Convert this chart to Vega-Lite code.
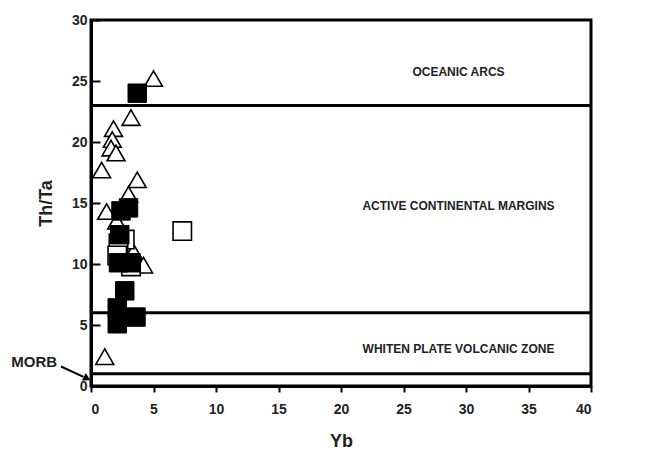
{
  "$schema": "https://vega.github.io/schema/vega-lite/v6.json",
  "width": 500,
  "height": 366,
  "autosize": "none",
  "padding": {"left": 91, "top": 20, "right": 67, "bottom": 67},
  "background": "white",
  "config": {
    "view": {"stroke": "black", "strokeWidth": 3},
    "font": "Liberation Sans",
    "axis": {"grid": false, "labelFont": "Liberation Sans", "labelFontWeight": "bold", "labelFontSize": 14, "labelColor": "#222", "titleFont": "Liberation Sans", "titleFontWeight": "bold", "titleFontSize": 18, "titleColor": "#222", "domainColor": "black", "domainWidth": 3, "tickColor": "black", "tickWidth": 2}
  },
  "datasets": {
    "pts": [
      {"Yb": 5.0, "ThTa": 25.2, "type": "tri"},
      {"Yb": 3.2, "ThTa": 22.0, "type": "tri"},
      {"Yb": 1.8, "ThTa": 21.1, "type": "tri"},
      {"Yb": 1.7, "ThTa": 20.2, "type": "tri"},
      {"Yb": 1.6, "ThTa": 19.5, "type": "tri"},
      {"Yb": 2.0, "ThTa": 19.1, "type": "tri"},
      {"Yb": 0.85, "ThTa": 17.7, "type": "tri"},
      {"Yb": 3.7, "ThTa": 16.9, "type": "tri"},
      {"Yb": 3.0, "ThTa": 15.7, "type": "tri"},
      {"Yb": 1.25, "ThTa": 14.3, "type": "tri"},
      {"Yb": 2.05, "ThTa": 13.5, "type": "tri"},
      {"Yb": 2.6, "ThTa": 11.0, "type": "tri"},
      {"Yb": 3.4, "ThTa": 11.0, "type": "tri"},
      {"Yb": 4.2, "ThTa": 9.9, "type": "tri"},
      {"Yb": 1.1, "ThTa": 2.4, "type": "tri"},
      {"Yb": 7.3, "ThTa": 12.7, "type": "open"},
      {"Yb": 2.7, "ThTa": 12.0, "type": "open"},
      {"Yb": 2.2, "ThTa": 11.7, "type": "open"},
      {"Yb": 2.1, "ThTa": 10.7, "type": "open"},
      {"Yb": 3.2, "ThTa": 9.8, "type": "open"},
      {"Yb": 3.7, "ThTa": 24.0, "type": "filled"},
      {"Yb": 2.4, "ThTa": 14.35, "type": "filled"},
      {"Yb": 3.0, "ThTa": 14.6, "type": "filled"},
      {"Yb": 2.3, "ThTa": 12.4, "type": "filled"},
      {"Yb": 2.2, "ThTa": 10.1, "type": "filled"},
      {"Yb": 3.2, "ThTa": 10.1, "type": "filled"},
      {"Yb": 2.7, "ThTa": 7.8, "type": "filled"},
      {"Yb": 2.1, "ThTa": 6.4, "type": "filled"},
      {"Yb": 2.1, "ThTa": 5.1, "type": "filled"},
      {"Yb": 3.6, "ThTa": 5.65, "type": "filled"}
    ]
  },
  "layer": [
    {
      "data": {"values": [{"y": 23}, {"y": 6}, {"y": 1}]},
      "mark": {"type": "rule", "color": "black", "strokeWidth": 3},
      "encoding": {
        "y": {"field": "y", "type": "quantitative", "scale": {"domain": [0, 30]}, "title": "Th/Ta",
          "axis": {"values": [0, 5, 10, 15, 20, 25, 30], "tickSize": -9, "labelPadding": 13, "titlePadding": 16}}
      }
    },
    {
      "data": {"name": "pts"},
      "transform": [{"filter": "datum.type === 'tri'"}],
      "mark": {"type": "point", "shape": "triangle-up", "size": 320, "filled": true, "fill": "white", "stroke": "black", "strokeWidth": 1.6, "opacity": 1},
      "encoding": {
        "x": {"field": "Yb", "type": "quantitative", "scale": {"domain": [0, 40]}, "title": "Yb",
          "axis": {"values": [0, 5, 10, 15, 20, 25, 30, 35, 40], "tickSize": 6, "labelPadding": 10, "titlePadding": 16}},
        "y": {"field": "ThTa", "type": "quantitative"}
      }
    },
    {
      "data": {"name": "pts"},
      "transform": [{"filter": "datum.type === 'open'"}],
      "mark": {"type": "point", "shape": "square", "size": 340, "filled": true, "fill": "white", "stroke": "black", "strokeWidth": 1.6, "opacity": 1},
      "encoding": {
        "x": {"field": "Yb", "type": "quantitative"},
        "y": {"field": "ThTa", "type": "quantitative"}
      }
    },
    {
      "data": {"name": "pts"},
      "transform": [{"filter": "datum.type === 'filled'"}],
      "mark": {"type": "point", "shape": "square", "size": 340, "filled": true, "fill": "black", "stroke": "black", "strokeWidth": 1, "opacity": 1},
      "encoding": {
        "x": {"field": "Yb", "type": "quantitative"},
        "y": {"field": "ThTa", "type": "quantitative"}
      }
    },
    {
      "data": {"values": [
        {"x": 29.4, "y": 25.7, "label": "OCEANIC ARCS"},
        {"x": 29.4, "y": 14.75, "label": "ACTIVE CONTINENTAL MARGINS"},
        {"x": 29.4, "y": 3.0, "label": "WHITEN PLATE VOLCANIC ZONE"}
      ]},
      "mark": {"type": "text", "font": "Liberation Sans", "fontWeight": "bold", "fontSize": 12, "color": "#222", "align": "center", "baseline": "middle"},
      "encoding": {
        "x": {"field": "x", "type": "quantitative"},
        "y": {"field": "y", "type": "quantitative"},
        "text": {"field": "label"}
      }
    },
    {
      "data": {"values": [{"x": -4.55, "y": 1.97, "label": "MORB"}]},
      "mark": {"type": "text", "font": "Liberation Sans", "fontWeight": "bold", "fontSize": 15, "color": "#222", "align": "center", "baseline": "middle"},
      "encoding": {
        "x": {"field": "x", "type": "quantitative"},
        "y": {"field": "y", "type": "quantitative"},
        "text": {"field": "label"}
      }
    },
    {
      "data": {"values": [{"x": -2.4, "y": 1.6, "x2": -0.6, "y2": 0.75}]},
      "mark": {"type": "rule", "color": "black", "strokeWidth": 2},
      "encoding": {
        "x": {"field": "x", "type": "quantitative"},
        "y": {"field": "y", "type": "quantitative"},
        "x2": {"field": "x2"},
        "y2": {"field": "y2"}
      }
    },
    {
      "data": {"values": [{"x": -0.4, "y": 0.66}]},
      "mark": {"type": "point", "shape": "triangle", "size": 70, "filled": true, "color": "black", "opacity": 1, "angle": 118},
      "encoding": {
        "x": {"field": "x", "type": "quantitative"},
        "y": {"field": "y", "type": "quantitative"}
      }
    }
  ]
}
